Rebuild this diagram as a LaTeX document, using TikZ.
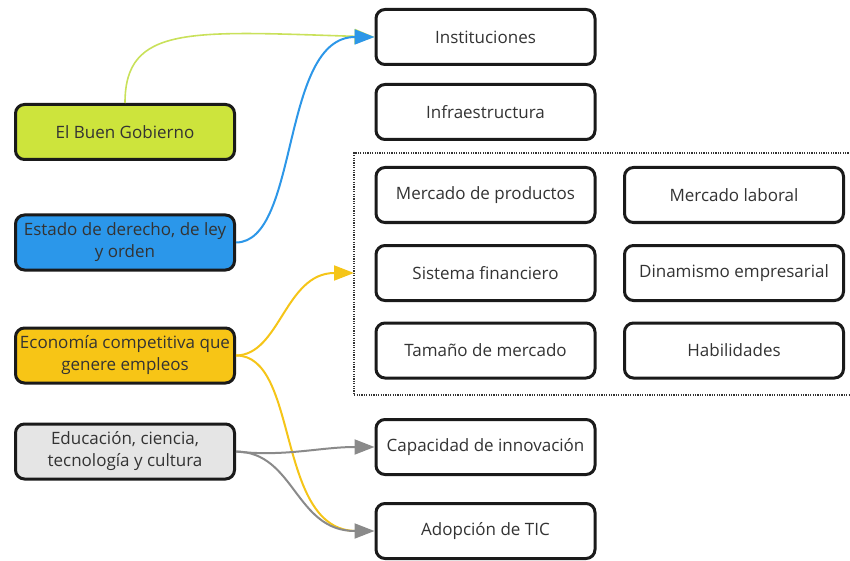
\documentclass[tikz,border=0pt]{standalone}
\usepackage{fontspec}
\setmainfont{Open Sans}
\usetikzlibrary{arrows.meta}
\definecolor{txt}{HTML}{333333}
\definecolor{lime}{HTML}{CDE43C}
\definecolor{bluef}{HTML}{2B97EA}
\definecolor{yellowf}{HTML}{F7C516}
\definecolor{grayf}{HTML}{E5E5E5}
\definecolor{limel}{HTML}{C9E15A}
\definecolor{bluel}{HTML}{2D97E8}
\definecolor{yellowl}{HTML}{F5C518}
\definecolor{grayl}{HTML}{8A8A8A}
\definecolor{boxline}{HTML}{1A1A1A}
\tikzset{
  box/.style={draw=boxline, line width=3pt, rounded corners=9pt, fill=white,
    minimum width=219pt, minimum height=55pt, inner sep=0pt, align=center,
    text=txt, font=\fontsize{17}{22}\selectfont},
  conn/.style={line width=2pt, -{Triangle[length=20pt,width=15pt]}},
}
\begin{document}
\begin{tikzpicture}[x=1pt,y=-1pt]
\useasboundingbox (0,0) rectangle (850,561);
% dotted group
\draw[line width=1.2pt, txt, dash pattern=on 1.2pt off 1.2pt] (851,153) -- (354,153) -- (354,395) -- (851,395);
\coordinate (grp) at (354,273);
% left nodes
\node[box, fill=lime] (gob) at (125,132) {El Buen Gobierno};
\node[box, fill=bluef] (est) at (125,242.5) {Estado de derecho, de ley\\y orden};
\node[box, fill=yellowf] (eco) at (125,355.5) {Economía competitiva que\\genere empleos};
\node[box, fill=grayf] (edu) at (125,451.5) {Educación, ciencia,\\tecnología y cultura};
% right nodes
\node[box] (ins) at (485.5,37) {Instituciones};
\node[box] (inf) at (485.5,112) {Infraestructura};
\node[box] (mpr) at (485.5,195) {Mercado de productos};
\node[box] (sfi) at (485.5,273) {Sistema financiero};
\node[box] (tam) at (485.5,350.5) {Tamaño de mercado};
\node[box] (mla) at (734,195) {Mercado laboral};
\node[box] (din) at (734,273) {Dinamismo empresarial};
\node[box] (hab) at (734,350.5) {Habilidades};
\node[box] (cap) at (485.5,447) {Capacidad de innovación};
\node[box] (ado) at (485.5,531) {Adopción de TIC};
% connectors
\draw[conn, limel, line width=1.6pt] (gob.north) .. controls (125,25) and (190,31) .. (ins.west);
\draw[conn, bluel] (est.east) .. controls (300,242) and (280,37) .. (ins.west);
\draw[conn, yellowl] (eco.east) .. controls (280,355) and (285,273) .. (grp);
\draw[line width=2pt, yellowl, shorten >=18pt] (eco.east) .. controls (300,355) and (275,531) .. (ado.west);
\draw[conn, grayl] (edu.east) .. controls (285,457) and (320,447) .. (cap.west);
\draw[conn, grayl] (edu.east) .. controls (295,452) and (295,531) .. (ado.west);
\end{tikzpicture}
\end{document}
